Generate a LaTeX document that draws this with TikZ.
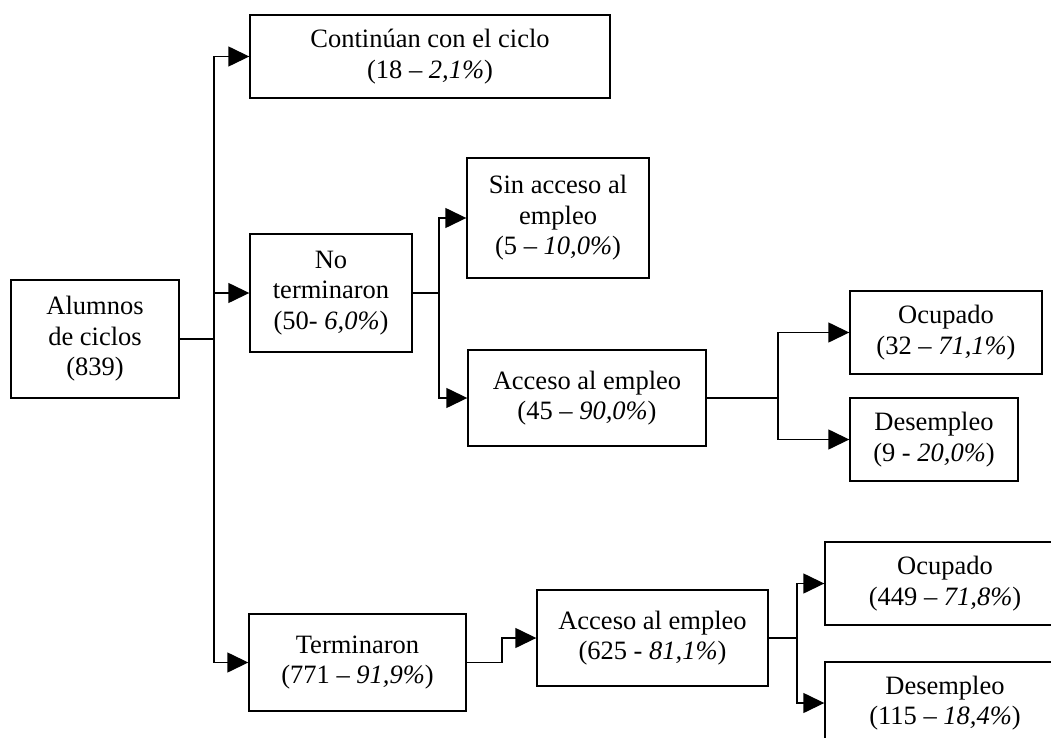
\documentclass[tikz,border=0pt]{standalone}
\usepackage{fontspec}
\setmainfont{Liberation Serif}
\usetikzlibrary{arrows.meta}
\begin{document}
\begin{tikzpicture}[x=1pt, y=-1pt, >={Triangle[length=21pt,width=20pt]}, line width=1.4pt,
    box/.style={draw, align=center, inner sep=0pt, font=\fontsize{26.5}{30.5}\selectfont}]
    \useasboundingbox (0,0) rectangle (1051,738);
    \clip (0,0) rectangle (1051,738);

    % Boxes
    \node[box, minimum width=168pt, minimum height=118pt] (alumnos) at (95,339) {Alumnos\\de ciclos\\(839)};
    \node[box, minimum width=360pt, minimum height=83pt] (continuan) at (430,56.5) {Continúan con el ciclo\\(18 – \textit{2,1\%})};
    \node[box, minimum width=162pt, minimum height=118pt] (noterm) at (331,293) {No\\terminaron\\(50- \textit{6,0\%})};
    \node[box, minimum width=182pt, minimum height=120pt] (sinacc) at (558,218) {Sin acceso al\\empleo\\(5 – \textit{10,0\%})};
    \node[box, minimum width=238pt, minimum height=96pt] (acc1) at (587,398) {Acceso al empleo\\(45 – \textit{90,0\%})};
    \node[box, minimum width=192pt, minimum height=83pt] (ocup1) at (946,332.5) {Ocupado\\(32 – \textit{71,1\%})};
    \node[box, minimum width=168pt, minimum height=83pt] (desem1) at (934,439.5) {Desempleo\\(9 - \textit{20,0\%})};
    \node[box, minimum width=217pt, minimum height=97pt] (term) at (357.5,662.5) {Terminaron\\(771 – \textit{91,9\%})};
    \node[box, minimum width=231pt, minimum height=96pt] (acc2) at (652.5,638) {Acceso al empleo\\(625 - \textit{81,1\%})};
    \node[box, minimum width=240pt, minimum height=83pt] (ocup2) at (945,583.5) {Ocupado\\(449 – \textit{71,8\%})};
    \node[box, minimum width=240pt, minimum height=82pt] (desem2) at (945,703) {Desempleo\\(115 – \textit{18,4\%})};

    % Branch points
    \coordinate (trunk) at (214,339);
    \coordinate (br1) at (439,293);
    \coordinate (br2) at (778,398);
    \coordinate (br3) at (502,662.5);
    \coordinate (br4) at (797,638);

    % Connectors
    \draw (alumnos.east) -- (trunk);
    \draw[->] (trunk) |- (continuan.west);
    \draw[->] (trunk) |- (noterm.west);
    \draw[->] (trunk) |- (term.west);
    \draw (noterm.east) -- (br1);
    \draw[->] (br1) |- (sinacc.west);
    \draw[->] (br1) |- (acc1.west);
    \draw (acc1.east) -- (br2);
    \draw[->] (br2) |- (ocup1.west);
    \draw[->] (br2) |- (desem1.west);
    \draw (term.east) -- (br3);
    \draw[->] (br3) |- (acc2.west);
    \draw (acc2.east) -- (br4);
    \draw[->] (br4) |- (ocup2.west);
    \draw[->] (br4) |- (desem2.west);
\end{tikzpicture}
\end{document}
